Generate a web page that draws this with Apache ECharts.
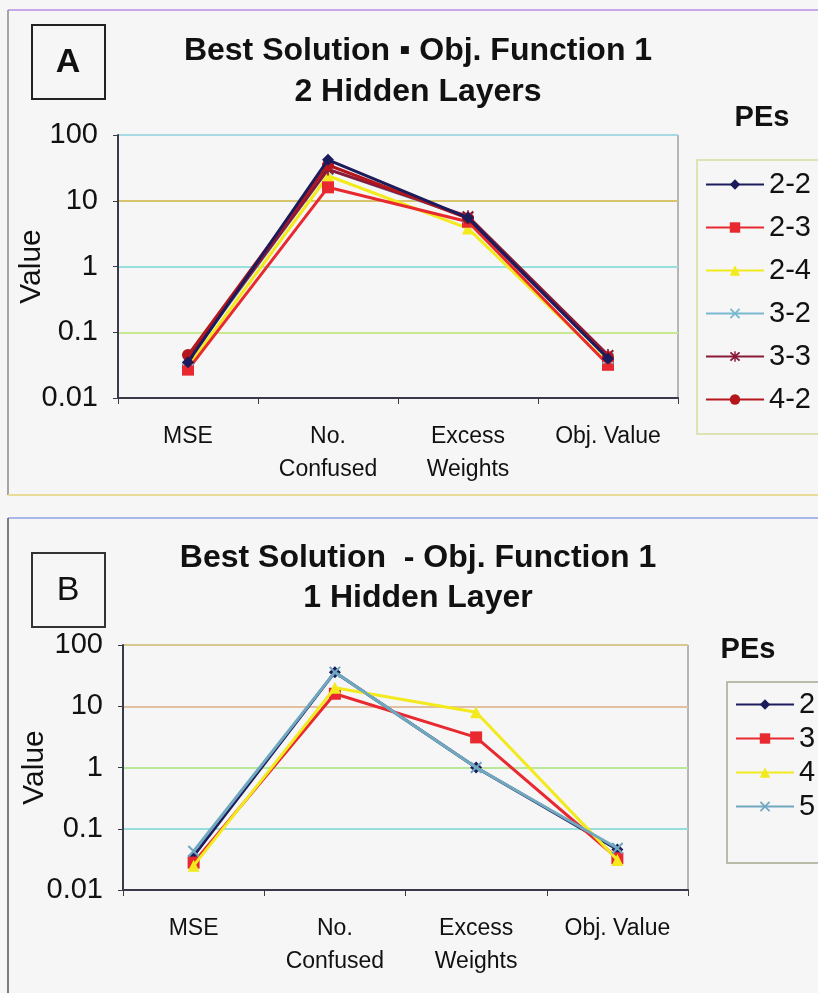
<!DOCTYPE html>
<html>
<head>
<meta charset="utf-8">
<script src="https://cdn.jsdelivr.net/npm/echarts@6/dist/echarts.min.js"></script>
<style>
html,body{margin:0;padding:0;background:#f6f6f6;}
#c{width:818px;height:993px;}
</style>
</head>
<body>
<div id="c"></div>
<script>
// ---- data ----
const categories = ['MSE', 'No.\nConfused', 'Excess\nWeights', 'Obj. Value'];
const yTickLabels = ['0.01', '0.1', '1', '10', '100'];

const namesA = ['2-2', '2-3', '2-4', '3-2', '3-3', '4-2'];
const a22 = [0.035, 42, 5.5, 0.040];
const a23 = [0.027, 16, 4.8, 0.032];
const a24 = [0.030, 24, 3.8, 0.034];
const a32 = [0.038, 30, 5.6, 0.040];
const a33 = [0.040, 30, 5.8, 0.045];
const a42 = [0.045, 35, 5.4, 0.042];

const namesB = ['2', '3', '4', '5'];
const b2 = [0.036, 36, 1.0, 0.046];
const b3 = [0.028, 16, 3.1, 0.033];
const b4 = [0.025, 20, 8.0, 0.031];
const b5 = [0.043, 36, 1.0, 0.048];

const titleA = 'Best Solution \u25AA Obj. Function 1\n2 Hidden Layers';
const titleB = 'Best Solution  - Obj. Function 1\n1 Hidden Layer';

// ---- styles ----
const FONT = '"Liberation Sans", Arial, sans-serif';
const X_SYM = 'path://M0,1.2L1.2,0L5,3.8L8.8,0L10,1.2L6.2,5L10,8.8L8.8,10L5,6.2L1.2,10L0,8.8L3.8,5Z';
const STAR_SYM = 'path://M0,1.2L1.2,0L5,3.8L8.8,0L10,1.2L6.2,5L10,8.8L8.8,10L5,6.2L1.2,10L0,8.8L3.8,5Z M4.3,-0.5L5.7,-0.5L5.7,10.5L4.3,10.5Z';
const stylesA = [
  {c:'#1c1c5c', s:'diamond', z:13},
  {c:'#e82a30', s:'rect', z:10},
  {c:'#f2ea1c', s:'triangle', z:9},
  {c:'#78b8d0', s:X_SYM, z:11},
  {c:'#8a1838', s:STAR_SYM, z:12},
  {c:'#b4161c', s:'circle', z:12}
];
const stylesB = [
  {c:'#1c1c5c', s:'diamond', z:9},
  {c:'#e82a30', s:'rect', z:10},
  {c:'#f2ea1c', s:'triangle', z:11},
  {c:'#70a8c0', s:X_SYM, z:12}
];

function mkSeries(names, datas, styles, idx) {
  return names.map((n, i) => ({
    name: n, type: 'line', xAxisIndex: idx, yAxisIndex: idx,
    data: datas[i], symbol: styles[i].s, symbolSize: 12, z: styles[i].z,
    lineStyle: {color: styles[i].c, width: 3},
    itemStyle: {color: styles[i].c},
    emphasis: {disabled: true}
  }));
}

function mkY(idx, gridColors, gap) {
  return {
    type: 'log', logBase: 10, min: 0.01, max: 100, gridIndex: idx,
    name: 'Value', nameLocation: 'middle', nameRotate: 90, nameGap: gap, nameMoveOverlap: false,
    nameTextStyle: {fontFamily: FONT, fontSize: 30, color: '#111'},
    axisLine: {show: true, lineStyle: {color: '#3a3a48', width: 2}},
    axisTick: {show: true, length: 5, lineStyle: {color: '#3a3a48'}},
    minorTick: {show: false},
    axisLabel: {fontFamily: FONT, fontSize: 29, color: '#111', margin: 20,
      formatter: (v, i) => yTickLabels[i]},
    splitLine: {show: true, lineStyle: {color: gridColors, width: 2}}
  };
}
function mkX(idx) {
  return {
    type: 'category', data: categories, gridIndex: idx, boundaryGap: true,
    axisLine: {show: true, lineStyle: {color: '#3a3a48', width: 2}},
    axisTick: {show: true, length: 6, lineStyle: {color: '#3a3a48'}},
    axisLabel: {fontFamily: FONT, fontSize: 23, color: '#111', margin: 22, lineHeight: 33,
      interval: 0},
    splitLine: {show: false}
  };
}

const chart = echarts.init(document.getElementById('c'), null, {renderer: 'canvas'});
chart.setOption({
  backgroundColor: '#f6f6f6',
  animation: false,
  grid: [
    {left: 118, right: 140, top: 135, bottom: 595, outerBoundsMode: 'none', show: true, borderColor: '#777', borderWidth: 1, backgroundColor: 'transparent'},
    {left: 123, right: 130, top: 645, bottom: 103, outerBoundsMode: 'none', show: true, borderColor: '#777', borderWidth: 1, backgroundColor: 'transparent'}
  ],
  xAxis: [mkX(0), mkX(1)],
  yAxis: [
    mkY(0, ['#4a4a60', '#c8e890', '#98e0dc', '#d8c46c', '#a8d8e4'], 71),
    mkY(1, ['#4a4a60', '#98dcdc', '#b8e89c', '#e0c0a0', '#d8c890'], 73)
  ],
  legend: [
    {data: namesA, orient: 'vertical', left: 697, top: 160, padding: [10, 30, 20, 8],
      itemWidth: 58, itemHeight: 13, itemGap: 14,
      textStyle: {fontFamily: FONT, fontSize: 29, color: '#111', lineHeight: 27},
      borderColor: '#d8dca0', borderWidth: 1.5, selectedMode: false},
    {data: namesB, orient: 'vertical', left: 727, top: 682, padding: [8, 30, 42, 8],
      itemWidth: 58, itemHeight: 13, itemGap: 5,
      textStyle: {fontFamily: FONT, fontSize: 29, color: '#111', lineHeight: 28},
      borderColor: '#a8a890', borderWidth: 1.5, selectedMode: false}
  ],
  graphic: [
    {type: 'line', shape: {x1: 8, y1: 10, x2: 818, y2: 10}, style: {stroke: '#c8a8e8', lineWidth: 2}},
    {type: 'line', shape: {x1: 8, y1: 10, x2: 8, y2: 495}, style: {stroke: '#8a8a8a', lineWidth: 1.5}},
    {type: 'line', shape: {x1: 8, y1: 495, x2: 818, y2: 495}, style: {stroke: '#e8dc98', lineWidth: 2}},
    {type: 'line', shape: {x1: 8, y1: 518, x2: 818, y2: 518}, style: {stroke: '#a8b8e8', lineWidth: 2}},
    {type: 'line', shape: {x1: 8, y1: 518, x2: 8, y2: 993}, style: {stroke: '#555', lineWidth: 1.5}},
    {type: 'rect', shape: {x: 32, y: 25, width: 73, height: 74}, style: {fill: 'transparent', stroke: '#222', lineWidth: 2}},
    {type: 'rect', shape: {x: 32, y: 553, width: 73, height: 74}, style: {fill: 'transparent', stroke: '#333', lineWidth: 2}},
    {type: 'text', x: 68, y: 63, style: {text: 'A', font: 'bold 34px ' + FONT, fill: '#111', textAlign: 'center', textVerticalAlign: 'middle'}},
    {type: 'text', x: 68, y: 591, style: {text: 'B', font: '34px ' + FONT, fill: '#111', textAlign: 'center', textVerticalAlign: 'middle'}},
    {type: 'text', x: 418, y: 72, style: {text: titleA, font: 'bold 32px ' + FONT, lineHeight: 41, fill: '#111', textAlign: 'center', textVerticalAlign: 'middle'}},
    {type: 'text', x: 418, y: 578, style: {text: titleB, font: 'bold 32px ' + FONT, lineHeight: 40, fill: '#111', textAlign: 'center', textVerticalAlign: 'middle'}},
    {type: 'text', x: 762, y: 118, style: {text: 'PEs', font: 'bold 29px ' + FONT, fill: '#111', textAlign: 'center', textVerticalAlign: 'middle'}},
    {type: 'text', x: 748, y: 650, style: {text: 'PEs', font: 'bold 29px ' + FONT, fill: '#111', textAlign: 'center', textVerticalAlign: 'middle'}}
  ],
  series: [
    ...mkSeries(namesA, [a22, a23, a24, a32, a33, a42], stylesA, 0),
    ...mkSeries(namesB, [b2, b3, b4, b5], stylesB, 1)
  ]
});
</script>
</body>
</html>
